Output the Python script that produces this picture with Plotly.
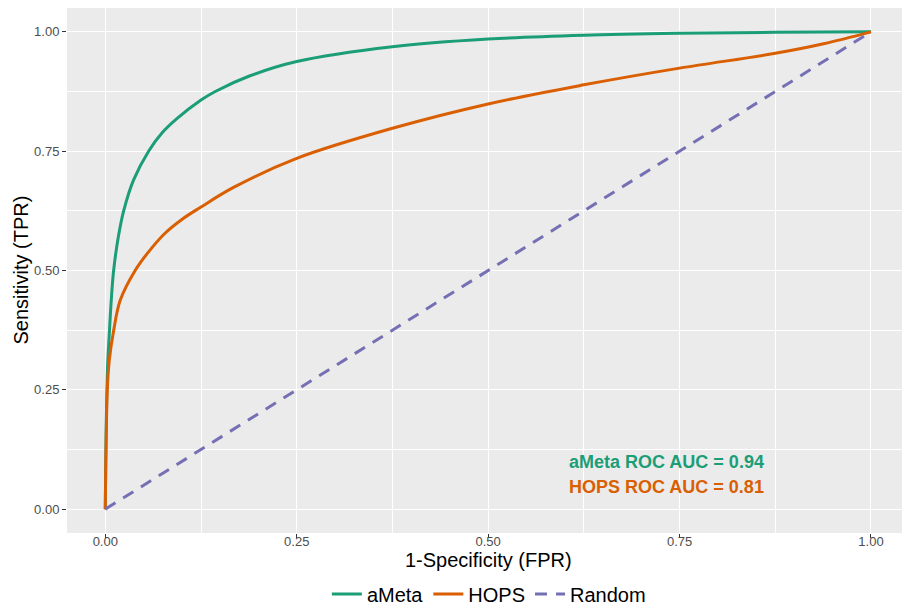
import plotly.graph_objects as go

# aMeta ROC curve
ameta_fpr = [0.0, 0.0005, 0.001, 0.002, 0.003, 0.005, 0.0078, 0.0109, 0.017, 0.024, 0.037, 0.0566, 0.074, 0.0935, 0.125, 0.1436, 0.189, 0.25, 0.375, 0.5, 0.625, 0.75, 0.875, 1.0]
ameta_tpr = [0.0, 0.08, 0.15, 0.24, 0.30, 0.36, 0.438, 0.50, 0.57, 0.625, 0.69, 0.75, 0.788, 0.818, 0.857, 0.875, 0.908, 0.938, 0.969, 0.985, 0.993, 0.997, 0.999, 1.0]

# HOPS ROC curve
hops_fpr = [0.0, 0.0005, 0.0013, 0.0026, 0.0052, 0.011, 0.0196, 0.039, 0.056, 0.078, 0.100, 0.124, 0.1675, 0.25, 0.375, 0.5, 0.625, 0.75, 0.875, 0.938, 1.0]
hops_tpr = [0.0, 0.08, 0.16, 0.25, 0.312, 0.375, 0.438, 0.50, 0.538, 0.578, 0.607, 0.632, 0.674, 0.735, 0.798, 0.849, 0.889, 0.924, 0.955, 0.975, 1.0]

# Random classifier
random_fpr = [0.0, 1.0]
random_tpr = [0.0, 1.0]

tick_vals = [0.0, 0.25, 0.5, 0.75, 1.0]
tick_text = ["0.00", "0.25", "0.50", "0.75", "1.00"]

auc_labels = ["aMeta ROC AUC = 0.94", "HOPS ROC AUC = 0.81"]
x_title = "1-Specificity (FPR)"
y_title = "Sensitivity (TPR)"

GREEN = "#1B9E77"
ORANGE = "#D95F02"
PURPLE = "#7570B3"
FONT = "Liberation Sans, Arial"

fig = go.Figure()
fig.add_trace(go.Scatter(x=ameta_fpr, y=ameta_tpr, mode="lines", name="aMeta",
                         line=dict(color=GREEN, width=3, shape="spline", smoothing=1.0)))
fig.add_trace(go.Scatter(x=hops_fpr, y=hops_tpr, mode="lines", name="HOPS",
                         line=dict(color=ORANGE, width=3, shape="spline", smoothing=1.0)))
fig.add_trace(go.Scatter(x=random_fpr, y=random_tpr, mode="lines", name="Random",
                         line=dict(color=PURPLE, width=3, dash="12px,9px")))

fig.add_annotation(x=0.603, y=0.0985, xref="x", yref="y", text="<b>" + auc_labels[0] + "</b>",
                   showarrow=False, xanchor="left", yanchor="middle",
                   font=dict(family=FONT, size=18, color=GREEN))
fig.add_annotation(x=0.603, y=0.047, xref="x", yref="y", text="<b>" + auc_labels[1] + "</b>",
                   showarrow=False, xanchor="left", yanchor="middle",
                   font=dict(family=FONT, size=18, color=ORANGE))

# axis titles placed as annotations for exact placement
fig.add_annotation(x=0.5, y=-0.05, xref="x", yref="y", yshift=-27, text=x_title,
                   showarrow=False, xanchor="center", yanchor="middle",
                   font=dict(family=FONT, size=20, color="black"))
fig.add_annotation(x=0, y=0.5, xref="paper", yref="y", xshift=-47, text=y_title, textangle=-90,
                   showarrow=False, xanchor="center", yanchor="middle",
                   font=dict(family=FONT, size=20, color="black"))

axis_common = dict(
    tickvals=tick_vals, ticktext=tick_text,
    showgrid=True, gridcolor="white", gridwidth=1.4,
    minor=dict(dtick=0.125, tick0=0.125, showgrid=True, gridcolor="white", gridwidth=0.6, ticklen=0),
    ticks="outside", ticklen=4, tickcolor="#333333", tickwidth=1,
    tickfont=dict(family=FONT, size=13, color="#4D4D4D"),
    zeroline=False, showline=False, automargin=False,
)

fig.update_xaxes(range=[-0.05, 1.0405], ticklabelstandoff=-8, **axis_common)
fig.update_yaxes(range=[-0.05, 1.05], **axis_common)

fig.update_layout(
    width=902, height=605,
    margin=dict(l=67, r=0, t=8, b=72, autoexpand=False),
    plot_bgcolor="#EBEBEB", paper_bgcolor="white",
    font=dict(family=FONT),
    legend=dict(orientation="h", xref="container", yref="container",
                x=0.542, xanchor="center", y=0.018, yanchor="middle",
                font=dict(family=FONT, size=20, color="black"),
                itemwidth=30, tracegroupgap=0, bgcolor="rgba(0,0,0,0)"),
)

fig.write_html("out.html", config={"displayModeBar": False},
               post_script="document.body.style.margin='0';document.body.style.padding='0';")
